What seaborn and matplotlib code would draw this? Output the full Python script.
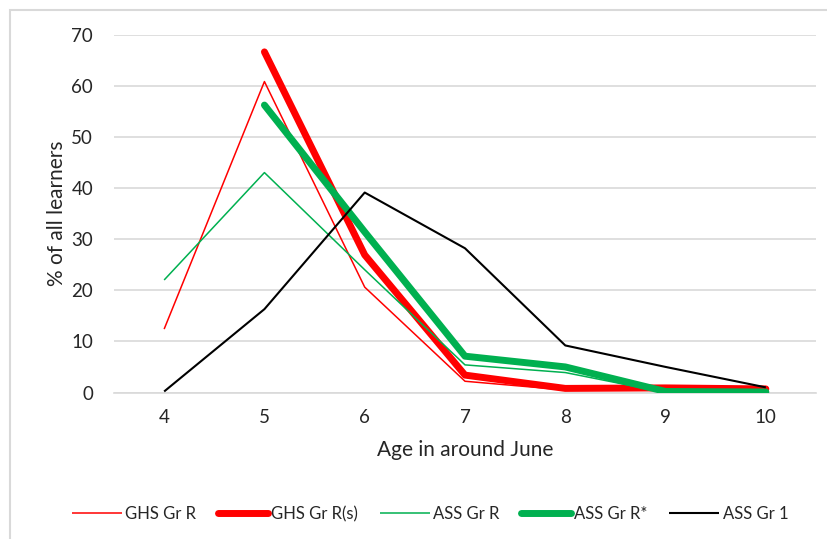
import matplotlib
matplotlib.use("Agg")
import matplotlib.pyplot as plt
from matplotlib.lines import Line2D
from matplotlib.patches import Rectangle
import seaborn as sns
import pandas as pd

# Age in around June
ages = [4, 5, 6, 7, 8, 9, 10]

# Percentage of all learners at each age
ghs_gr_r = [12.4, 60.8, 20.6, 2.2, 0.5, 0.8, 0.8]
ghs_gr_r_s = [None, 66.6, 26.9, 3.4, 0.8, 0.9, 0.7]
ass_gr_r = [22.0, 43.0, 24.0, 5.4, 3.9, 0.0, 0.0]
ass_gr_r_star = [None, 56.2, 31.4, 7.1, 5.0, 0.2, 0.1]
ass_gr_1 = [0.2, 16.3, 39.1, 28.2, 9.2, 5.0, 1.0]

series_names = ["GHS Gr R", "GHS Gr R(s)", "ASS Gr R", "ASS Gr R*", "ASS Gr 1"]
series_values = [ghs_gr_r, ghs_gr_r_s, ass_gr_r, ass_gr_r_star, ass_gr_1]
colors = ["#ff0000", "#ff0000", "#00b050", "#00b050", "#000000"]
widths = [1.1, 5.0, 1.1, 5.0, 1.5]

y_ticks = [0, 10, 20, 30, 40, 50, 60, 70]

rows = []
for name, vals in zip(series_names, series_values):
    for a, v in zip(ages, vals):
        if v is not None:
            rows.append({"age": a, "pct": v, "series": name})
df = pd.DataFrame(rows)

sns.set_theme(style="white")
plt.rcParams["font.family"] = ["Lato", "DejaVu Sans"]

fig = plt.figure(figsize=(8.27, 5.39), dpi=100)
ax = fig.add_axes([114 / 827, 1 - 392.5 / 539, (816 - 114) / 827, (392.5 - 34.5) / 539])

for name, col, lw in zip(series_names, colors, widths):
    sub = df[df["series"] == name]
    sns.lineplot(data=sub, x="age", y="pct", ax=ax, color=col, linewidth=lw,
                 solid_capstyle="round" if lw > 2 else "butt",
                 solid_joinstyle="round", legend=False)

ax.set_xlim(3.5, 10.5)
ax.set_ylim(0, 70)
ax.set_xticks(ages)
ax.set_yticks(y_ticks)
ax.tick_params(axis="both", length=0, labelsize=13.5, labelcolor="#262626")
ax.tick_params(axis="x", pad=12)
ax.tick_params(axis="y", pad=15)
ax.grid(axis="y", color="#d9d9d9", linewidth=1.2)
ax.set_axisbelow(True)
for side in ["top", "right", "left"]:
    ax.spines[side].set_visible(False)
ax.spines["bottom"].set_color("#d9d9d9")
ax.spines["bottom"].set_linewidth(1.2)
ax.spines["bottom"].set_zorder(0)
ax.set_xlabel("Age in around June", fontsize=15, color="#262626", labelpad=10)
ax.set_ylabel("% of all learners", fontsize=15, color="#262626", labelpad=3)

handles = [Line2D([0], [0], color=c, linewidth=w, solid_capstyle="round" if w > 2 else "butt")
           for c, w in zip(colors, widths)]
fig.legend(handles, series_names, loc="center", bbox_to_anchor=(0.52, 1 - 514 / 539),
           ncol=5, frameon=False, fontsize=12, handlelength=3.0, handletextpad=0.2,
           columnspacing=1.3, labelcolor="#262626")

# Chart-area border
fig.patches.append(Rectangle((10 / 827, -0.1), 1.2, 1 - 10 / 539 + 0.1,
                             transform=fig.transFigure, fill=False,
                             edgecolor="#d9d9d9", linewidth=1.5))

fig.savefig("out.png", dpi=100)
